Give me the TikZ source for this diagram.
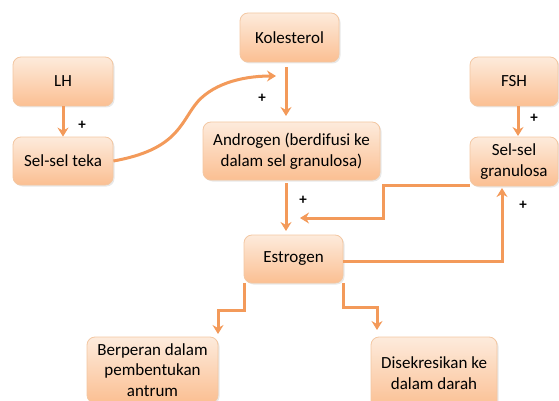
\documentclass[tikz,border=0pt]{standalone}
\usepackage{fontspec}
\setmainfont{Carlito}
\usetikzlibrary{arrows.meta,shadows}
\definecolor{boxtop}{HTML}{FDEBDC}
\definecolor{boxbot}{HTML}{FBBF92}
\definecolor{boxline}{HTML}{F3C7A2}
\definecolor{arr}{HTML}{F39A5A}
\tikzset{
  box/.style={draw=boxline, line width=0.8pt, rounded corners=8pt, top color=boxtop, bottom color=boxbot,
    align=center, font=\fontsize{17}{20.5}\selectfont, inner sep=0pt,
    drop shadow={shadow xshift=1.5pt, shadow yshift=-1.5pt, opacity=0.18}},
  flow/.style={draw=arr, line width=3pt, -{Stealth[length=9pt,width=11pt,inset=3pt]}},
  plus/.style={font=\fontsize{15}{15}\selectfont\bfseries, inner sep=0pt},
}
\begin{document}
\begin{tikzpicture}[x=1pt,y=-1pt]
\useasboundingbox (0,0) rectangle (559,401);
\clip (0,0) rectangle (559,401);
% boxes
\node[box, minimum width=100pt, minimum height=49pt] (lh) at (63,81.5) {LH};
\node[box, minimum width=100pt, minimum height=48pt] (teka) at (63,161) {Sel-sel teka};
\node[box, minimum width=99pt, minimum height=49pt] (kol) at (289.5,37.5) {Kolesterol};
\node[box, minimum width=177pt, minimum height=58pt] (andro) at (291.5,151) {Androgen (berdifusi ke\\dalam sel granulosa)};
\node[box, minimum width=88pt, minimum height=49pt] (fsh) at (514,81.5) {FSH};
\node[box, minimum width=88pt, minimum height=49pt] (gran) at (514,161.5) {Sel-sel\\granulosa};
\node[box, minimum width=99pt, minimum height=48pt] (estro) at (293.5,259) {Estrogen};
\node[box, minimum width=131pt, minimum height=66pt] (berp) at (152.5,370) {Berperan dalam\\pembentukan\\antrum};
\node[box, minimum width=126pt, minimum height=72pt] (disek) at (434,373) {Disekresikan ke\\dalam darah};
% helper coordinates
\coordinate (curveEnd) at (276,76);
\coordinate (joinAE) at (300,218);
% connectors
\draw[flow] (lh.south) -- (teka.north);
\draw[flow] (teka.east) .. controls (175,150) and (180,125) .. (195,105) .. controls (210,85) and (240,76) .. (curveEnd);
\draw[flow] (kol.south -| 286,0) ++(0,5) -- (286,116);
\draw[flow] (andro.south -| 286,0) ++(0,3) -- (286,231);
\draw[flow] (fsh.south -| 518,0) -- (518,136);
\draw[draw=arr, line width=3pt, line join=miter] (gran.west |- 0,185) -- (383,185) -- (383,218) -- (315,218);
\draw[flow] (383,218) -- (joinAE);
\draw[flow] (estro.east |- 0,261) -- (502,261) -- (502,188);
\draw[flow] (estro.south -| 244,0) -- (244,310) -- (218,310) -- (218,334);
\draw[flow] (estro.south -| 343,0) -- (343,307) -- (377,307) -- (377,330);
% plus signs
\node[plus] (p1) at (82,125) {+};
\node[plus] (p2) at (262,98) {+};
\node[plus] (p3) at (303,200) {+};
\node[plus] (p4) at (534,118) {+};
\node[plus] (p5) at (523,205) {+};
\end{tikzpicture}
\end{document}
